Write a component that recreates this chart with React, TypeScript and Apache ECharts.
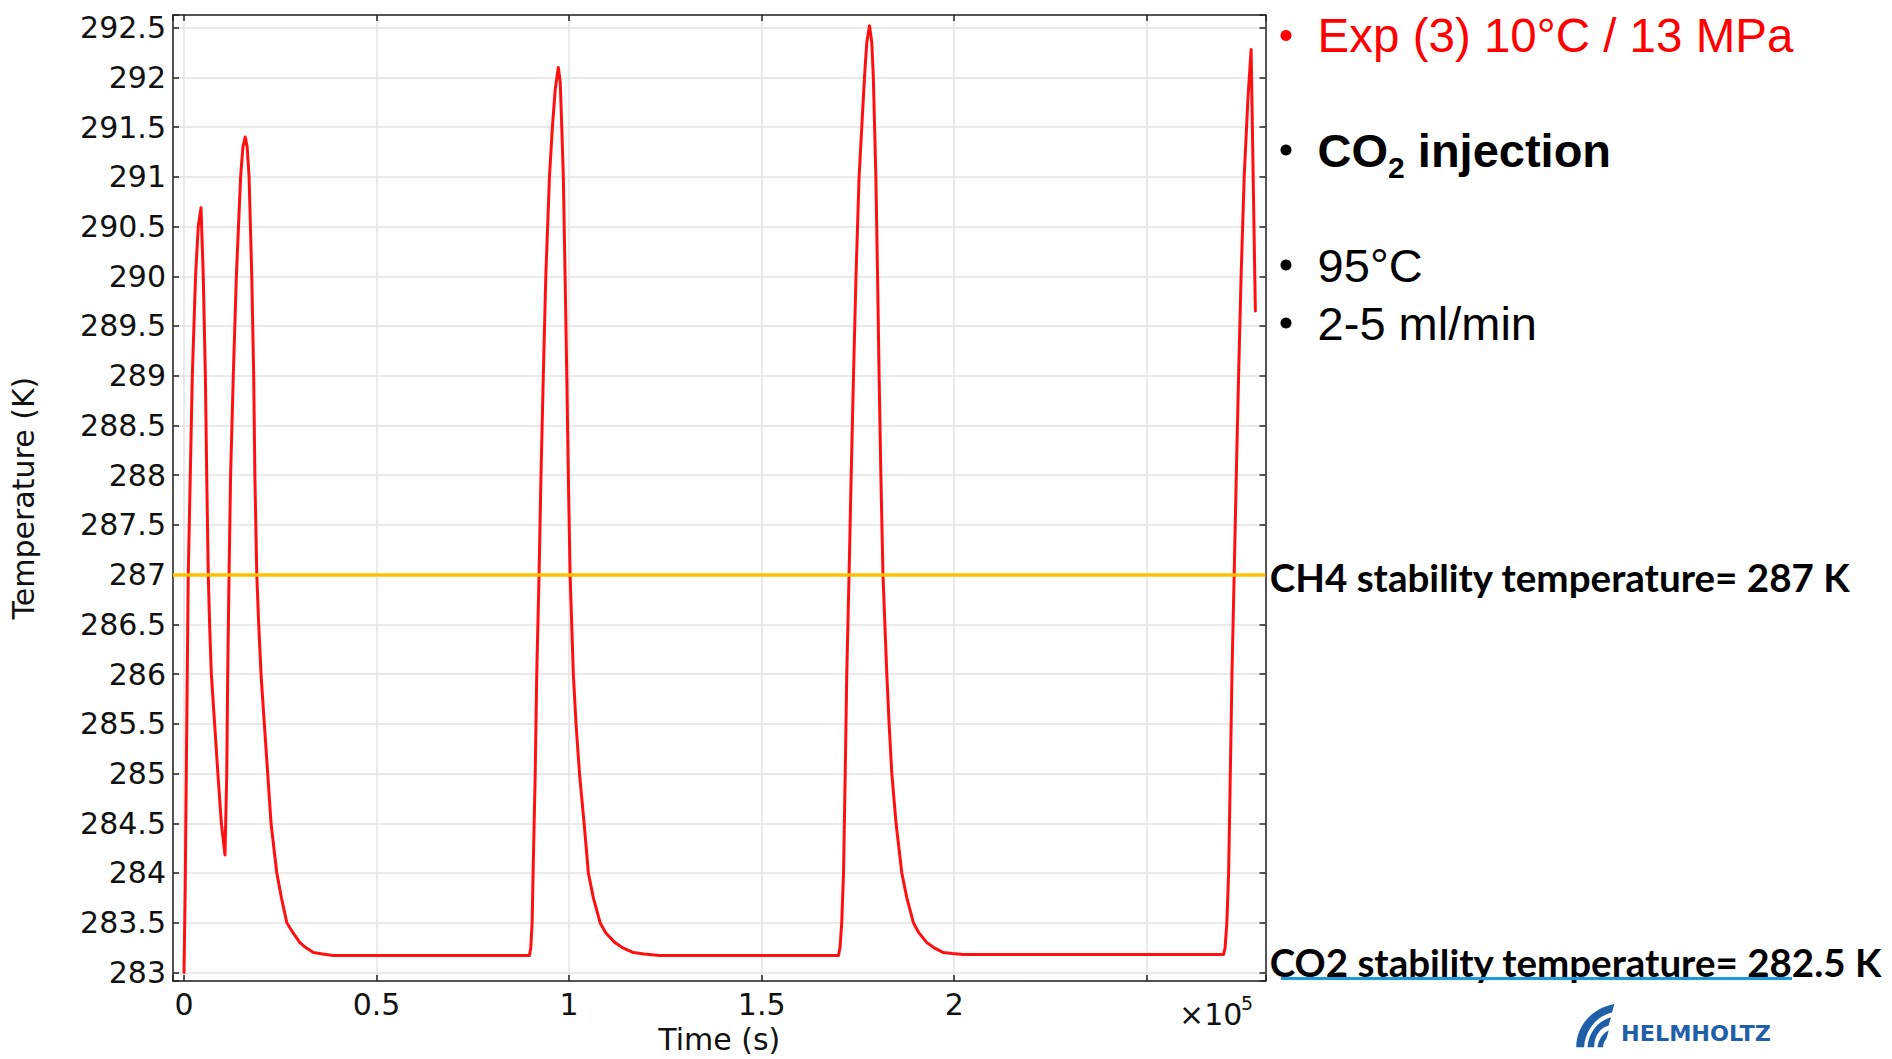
import React, { useEffect, useRef } from "react";
import * as echarts from "echarts";

// ---- data (time in s, temperature in K) ----
const timeS = [
  0, 300, 1100, 2160, 3000, 3700, 4420, 5000, 5550, 5900, 6300, 6650, 7100, 7950, 8800, 9700, 10650,
  11100, 11350, 11700, 12100, 12800, 13600, 14700, 15300, 15900, 16400, 16900, 17600, 18100, 18400, 18900,
  19400, 20000, 20860, 21740, 22600, 24100, 25300, 26700, 28300, 30100, 31600, 33600, 36000, 38700, 60000, 89700,
  90050, 90400, 90650, 91200, 91600, 92200, 92700, 93300, 93950, 94900, 95660, 96400, 97200, 97700, 98100,
  98500, 98960, 99400, 99800, 100260, 101100, 101800, 102700, 103900, 105000, 106300, 108050, 109500, 111900,
  113800, 116700, 119500, 123600, 150000, 169950,
  170350, 170800, 171260, 171700, 172100, 172700, 173250, 173850, 174500, 175300, 176700, 177300, 178000, 178600,
  179000, 179660, 180100, 180500, 180960, 181500, 182500, 183100, 183800, 184900, 186400, 187700, 189400, 190800,
  192900, 194700, 197200, 199500, 202400, 240000, 269950,
  270350, 270800, 271260, 271700, 272130, 272700, 273250, 273850, 274500, 275300, 276300, 277100, 278200,
];
const tempK = [
  283.0, 283.8, 287.0, 289.0, 290.0, 290.5, 290.69, 290.0, 289.0, 288.0, 287.0, 286.5, 286.0, 285.5, 285.0, 284.5, 284.18,
  285.0, 286.0, 287.0, 288.0, 289.0, 290.0, 291.0, 291.3, 291.4, 291.3, 291.0, 290.0, 289.0, 288.0, 287.0,
  286.5, 286.0, 285.5, 285.0, 284.5, 284.0, 283.75, 283.5, 283.4, 283.3, 283.25, 283.2, 283.185, 283.17, 283.17, 283.17,
  283.25, 283.5, 284.0, 285.0, 286.0, 287.0, 288.0, 289.0, 290.0, 291.0, 291.5, 291.88, 292.1, 291.95, 291.5,
  291.0, 290.0, 289.0, 288.0, 287.0, 286.0, 285.5, 285.0, 284.5, 284.0, 283.75, 283.5, 283.4, 283.3,
  283.25, 283.2, 283.185, 283.17, 283.17, 283.17,
  283.25, 283.5, 284.0, 285.0, 286.0, 287.0, 288.0, 289.0, 290.0, 291.0, 292.0, 292.35, 292.52, 292.35,
  292.0, 291.0, 290.0, 289.0, 288.0, 287.0, 286.0, 285.5, 285.0, 284.5, 284.0, 283.75, 283.5, 283.4,
  283.3, 283.25, 283.2, 283.19, 283.18, 283.18, 283.18,
  283.25, 283.5, 284.0, 285.0, 286.0, 287.0, 288.0, 289.0, 290.0, 291.0, 291.8, 292.28, 289.65,
];
const ch4StabilityK = 287;
const axisRangeX = [-2856, 280836];
const axisRangeY = [282.913, 292.627];
const xTickStep = 50000;
const yTickStep = 0.5;
const xLabelMax = 200000;
const xAxisName = "Time (s)";
const yAxisName = "Temperature (K)";
const bulletTexts = ["Exp (3) 10°C / 13 MPa", "CO", "2", " injection", "95°C", "2-5 ml/min"];
const ch4Text = "CH4 stability temperature= 287 K";
const co2Text = "CO2 stability temperature= 282.5 K";
const logoText = "HELMHOLTZ";

const LOGO_D =
  "M2,36 C2,20 14,4 36,0 L34,7 C20,10 10,22 9,36 Z " +
  "M12,36 C13,24 21,14 33,11 L31,18 C23,20 18,27 18,36 Z " +
  "M21,36 C22,29 26,24 31,22 L29,29 C27,31 26,33 26,36 Z";
echarts.graphic.registerShape("helmLogo", echarts.graphic.extendPath(LOGO_D, {}) as any);

const DV = "DejaVu Sans";
const ARIAL = "Liberation Sans";
const AX = "#222";

function fmtX(v: number) {
  const r = v / xTickStep;
  if (Math.abs(r - Math.round(r)) > 1e-6 || v < 0 || v > xLabelMax + 1) return "";
  return String(+(v / 1e5).toFixed(1));
}
function fmtY(v: number) {
  const r = v / yTickStep;
  if (Math.abs(r - Math.round(r)) > 1e-6) return "";
  return String(+v.toFixed(1));
}

function txt(text: string, x: number, y: number, size: number, family: string, weight: string, fill: string, extra: any = {}) {
  return {
    type: "text",
    x,
    y,
    ...extra,
    style: {
      text,
      fontSize: size,
      fontFamily: family,
      fontWeight: weight,
      fill,
      align: "left",
      verticalAlign: "middle",
      textAlign: "left",
      textVerticalAlign: "middle",
    },
  };
}

export default function App() {
  const ref = useRef<HTMLDivElement>(null);
  useEffect(() => {
    if (!ref.current) return;
    const chart = echarts.init(ref.current, null, { renderer: "svg", width: 1892, height: 1059 });
    const ctx = document.createElement("canvas").getContext("2d")!;
    const measure = (t: string, font: string) => {
      ctx.font = font;
      return ctx.measureText(t).width;
    };

    const points = timeS.map((t, i) => [t, tempK[i]]);

    const axisCommon = {
      type: "value",
      axisLine: { show: true, onZero: false, lineStyle: { color: AX, width: 1.5 } },
      axisTick: { show: true, inside: true, length: 6, lineStyle: { color: AX, width: 1.5 } },
    };

    const RX = 1317.6;
    const coW = measure(bulletTexts[1], `bold 47px "${ARIAL}"`);
    const subW = measure(bulletTexts[2], `bold 30px "${ARIAL}"`);
    const latoFont = `bold 38px Lato`;
    const ch4Scale = 581 / measure(ch4Text, latoFont);
    const co2Scale = 613 / measure(co2Text, latoFont);
    const helmScale = 150 / measure(logoText, `bold 22px "${DV}"`);

    const bulletYs = [35.5, 150, 265, 323];
    const bulletColors = ["#ff0000", "#000", "#000", "#000"];

    const graphic: any[] = [
      ...bulletYs.map((cy, i) => ({
        type: "circle",
        shape: { cx: 1286, cy, r: 5.5 },
        style: { fill: bulletColors[i] },
      })),
      txt(bulletTexts[0], RX, 35.5, 47.5, ARIAL, "normal", "#ff0000"),
      txt(bulletTexts[1], RX, 150, 47, ARIAL, "bold", "#000"),
      txt(bulletTexts[2], RX + coW, 167.5, 30, ARIAL, "bold", "#000"),
      txt(bulletTexts[3], RX + coW + subW, 150, 47, ARIAL, "bold", "#000"),
      txt(bulletTexts[4], RX, 265, 47, ARIAL, "normal", "#000"),
      txt(bulletTexts[5], RX, 323, 47, ARIAL, "normal", "#000"),
      txt(ch4Text, 1269.7, 577, 38, "Lato", "bold", "#000", { scaleX: ch4Scale }),
      txt(co2Text, 1269.7, 962, 38, "Lato", "bold", "#000", { scaleX: co2Scale }),
      {
        type: "line",
        shape: { x1: 1281, y1: 978.5, x2: 1792, y2: 978.5 },
        style: { stroke: "#1c9be0", lineWidth: 3 },
      },
      txt("×10", 1179, 1014, 30, DV, "normal", "#111"),
      txt("5", 1241, 1003, 19, DV, "normal", "#111"),
      {
        type: "helmLogo",
        x: 1574,
        y: 1004,
        scaleX: 1.12,
        scaleY: 1.2,
        style: { fill: "#1f5fa8" },
      },
      txt(logoText, 1621, 1033, 22, DV, "bold", "#1f5fa8", { scaleX: helmScale }),
    ];

    chart.setOption({
      animation: false,
      backgroundColor: "#ffffff",
      grid: { left: 173, right: 626.5, top: 15, bottom: 69, containLabel: false },
      xAxis: [
        {
          ...axisCommon,
          position: "bottom",
          min: axisRangeX[0],
          max: axisRangeX[1],
          splitNumber: 6,
          name: xAxisName,
          nameLocation: "middle",
          nameGap: 40,
          nameTextStyle: { fontFamily: DV, fontSize: 30, color: "#111" },
          axisLabel: {
            show: true,
            margin: 8,
            fontFamily: DV,
            fontSize: 30,
            color: "#111",
            formatter: fmtX,
            showMinLabel: true,
            showMaxLabel: true,
          },
          splitLine: { show: true, lineStyle: { color: "#e3e3e3", width: 1.5 } },
        },
        {
          ...axisCommon,
          position: "top",
          min: axisRangeX[0],
          max: axisRangeX[1],
          splitNumber: 6,
          axisLabel: { show: false },
          splitLine: { show: false },
        },
      ],
      yAxis: [
        {
          ...axisCommon,
          position: "left",
          min: axisRangeY[0],
          max: axisRangeY[1],
          splitNumber: 19,
          name: yAxisName,
          nameLocation: "middle",
          nameGap: 135,
          nameTextStyle: { fontFamily: DV, fontSize: 30, color: "#111" },
          axisLabel: {
            show: true,
            margin: 7,
            fontFamily: DV,
            fontSize: 30,
            color: "#111",
            formatter: fmtY,
            showMinLabel: true,
            showMaxLabel: true,
          },
          splitLine: { show: true, lineStyle: { color: "#e3e3e3", width: 1.5 } },
        },
        {
          ...axisCommon,
          position: "right",
          min: axisRangeY[0],
          max: axisRangeY[1],
          splitNumber: 19,
          axisLabel: { show: false },
          splitLine: { show: false },
        },
      ],
      series: [
        {
          type: "line",
          xAxisIndex: 0,
          yAxisIndex: 0,
          data: points,
          showSymbol: false,
          symbol: "none",
          smooth: false,
          lineStyle: { color: "#ff1010", width: 3, join: "round", cap: "round" },
          silent: true,
          markLine: {
            silent: true,
            symbol: ["none", "none"],
            label: { show: false },
            lineStyle: { color: "#ffc000", width: 3.5, type: "solid" },
            data: [{ yAxis: ch4StabilityK }],
          },
        },
      ],
      graphic,
    });
    return () => chart.dispose();
  }, []);
  return (
    <div
      ref={ref}
      style={{ position: "fixed", left: 0, top: 0, width: 1892, height: 1059, background: "#fff" }}
    />
  );
}
